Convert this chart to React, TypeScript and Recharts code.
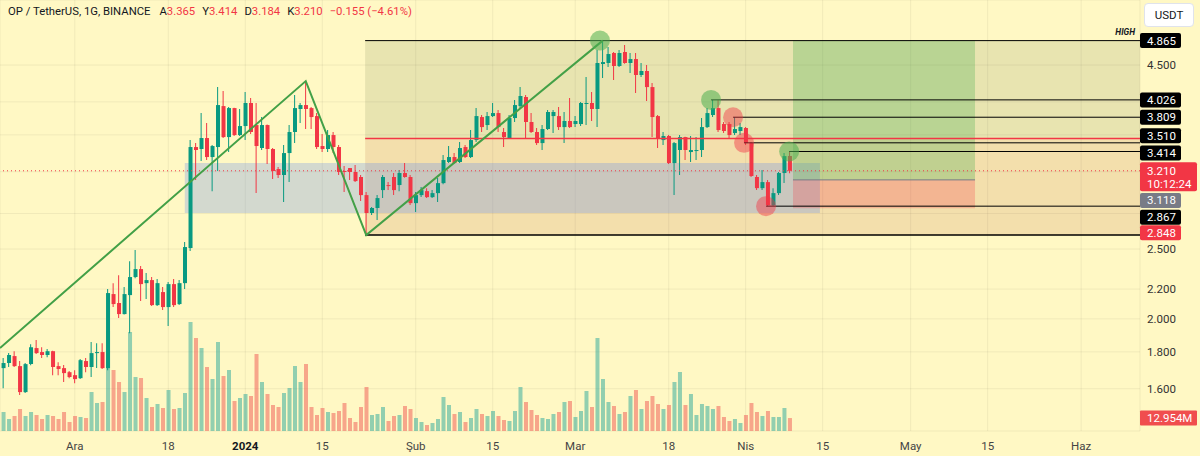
import React from "react";
import {
  ComposedChart,
  Bar,
  Line,
  XAxis,
  YAxis,
  CartesianGrid,
  ReferenceArea,
  ReferenceLine,
  ReferenceDot,
  Cell,
} from "recharts";

// daily candles, OP/USDT, 18 Nov 2023 .. 9 Apr 2024 (index 0 = 18 Nov)
const opens = [
  1.709, 1.737, 1.776, 1.72, 1.583, 1.731, 1.822, 1.799, 1.782, 1.804,
  1.72, 1.709, 1.687, 1.671, 1.655, 1.748, 1.715, 1.793, 1.799, 1.709,
  2.165, 2.104, 2.031, 2.158, 2.286, 2.345, 2.242, 2.264, 2.09, 2.179,
  2.077, 2.235, 2.097, 2.242, 2.508, 3.463, 3.441, 3.564, 3.354, 3.463,
  3.947, 3.575, 3.922, 3.598, 3.703, 3.986, 3.715, 3.452, 3.715, 3.441,
  3.228, 3.167, 3.397, 3.633, 3.91, 3.96, 3.922, 3.823, 3.474, 3.441,
  3.598, 3.463, 3.208, 3.238, 3.198, 3.147, 2.97, 2.805, 2.85, 3.018,
  3.067, 3.147, 3.067, 3.187, 3.147, 2.895, 2.97, 3.008, 2.951, 2.989,
  3.086, 3.301, 3.354, 3.301, 3.463, 3.354, 3.541, 3.811, 3.715, 3.823,
  3.86, 3.633, 3.564, 3.799, 3.947, 4.063, 3.751, 3.633, 3.507, 3.668,
  3.823, 3.823, 3.691, 3.763, 3.727, 3.727, 3.973, 3.986, 3.91, 4.515,
  4.529, 4.676, 4.486, 4.691, 4.529, 4.587, 4.359, 4.415, 4.194, 3.823,
  3.541, 3.587, 3.29, 3.43, 3.575, 3.408, 3.419, 3.43, 3.691, 3.836,
  3.922, 3.727, 3.727, 3.621, 3.645, 3.68, 3.507, 3.147, 3.037, 3.096,
  2.875, 2.989, 3.187, 3.365,
];
const highs = [
  1.765, 1.793, 1.804, 1.748, 1.737, 1.845, 1.869, 1.827, 1.816, 1.806,
  1.742, 1.726, 1.693, 1.698, 1.759, 1.765, 1.857, 1.851, 1.851, 2.2,
  2.242, 2.3, 2.214, 2.405, 2.492, 2.368, 2.315, 2.286, 2.271, 2.214,
  2.25, 2.271, 2.264, 2.557, 3.541, 3.507, 3.86, 3.739, 3.485, 4.194,
  4.142, 3.935, 3.925, 3.91, 4.129, 4.05, 3.986, 3.811, 3.72, 3.452,
  3.249, 3.485, 3.715, 4.089, 3.986, 4.275, 3.935, 3.86, 3.61, 3.656,
  3.633, 3.485, 3.259, 3.238, 3.269, 3.167, 2.999, 2.859, 2.97, 3.167,
  3.096, 3.187, 3.218, 3.29, 3.167, 2.999, 3.047, 3.037, 3.018, 3.136,
  3.375, 3.474, 3.397, 3.519, 3.485, 3.656, 3.922, 3.836, 3.873, 3.986,
  3.897, 3.68, 3.836, 4.024, 4.194, 4.089, 3.86, 3.68, 3.715, 3.897,
  3.897, 3.935, 3.873, 4.05, 3.823, 3.999, 4.331, 4.129, 4.721, 4.865,
  4.767, 4.691, 4.721, 4.797, 4.676, 4.676, 4.529, 4.5, 4.248, 3.836,
  3.633, 3.598, 3.519, 3.598, 3.58, 3.587, 3.575, 3.799, 3.922, 4.026,
  4.02, 3.751, 3.751, 3.809, 3.739, 3.691, 3.519, 3.167, 3.218, 3.116,
  3.037, 3.198, 3.397, 3.414,
];
const lows = [
  1.603, 1.715, 1.715, 1.568, 1.578, 1.725, 1.788, 1.765, 1.77, 1.671,
  1.671, 1.635, 1.655, 1.629, 1.65, 1.687, 1.661, 1.709, 1.704, 1.698,
  2.077, 2.005, 2.028, 1.911, 2.278, 2.117, 2.131, 2.084, 2.084, 2.057,
  1.955, 2.077, 2.09, 2.2, 2.484, 3.116, 3.311, 3.322, 3.008, 3.208,
  3.564, 3.408, 3.587, 3.587, 3.541, 3.61, 2.989, 3.43, 3.28, 3.126,
  3.136, 2.905, 3.096, 3.507, 3.739, 3.668, 3.668, 3.441, 3.408, 3.408,
  3.397, 3.167, 2.999, 3.116, 3.096, 2.914, 2.614, 2.787, 2.742, 2.942,
  3.018, 2.97, 3.008, 3.14, 2.877, 2.814, 2.951, 2.942, 2.942, 2.905,
  3.076, 3.29, 3.285, 3.29, 3.343, 3.343, 3.519, 3.633, 3.656, 3.811,
  3.633, 3.463, 3.552, 3.751, 3.922, 3.564, 3.621, 3.485, 3.43, 3.656,
  3.621, 3.656, 3.507, 3.68, 3.691, 3.703, 3.715, 3.763, 3.691, 4.316,
  4.472, 4.289, 4.472, 4.52, 4.387, 4.115, 4.331, 4.011, 3.575, 3.452,
  3.485, 3.28, 2.97, 3.167, 3.322, 3.301, 3.322, 3.354, 3.68, 3.811,
  3.633, 3.621, 3.564, 3.598, 3.598, 3.485, 3.147, 3.018, 3.018, 2.867,
  2.87, 2.97, 3.086, 3.184,
];
const closes = [
  1.737, 1.782, 1.72, 1.583, 1.731, 1.827, 1.793, 1.782, 1.804, 1.715,
  1.704, 1.682, 1.661, 1.65, 1.753, 1.715, 1.793, 1.799, 1.709, 2.172,
  2.097, 2.031, 2.165, 2.286, 2.345, 2.235, 2.264, 2.09, 2.242, 2.077,
  2.235, 2.09, 2.242, 2.516, 3.463, 3.43, 3.564, 3.354, 3.474, 3.96,
  3.575, 3.922, 3.598, 3.703, 3.986, 3.633, 3.474, 3.715, 3.441, 3.208,
  3.167, 3.397, 3.633, 3.922, 3.96, 3.91, 3.811, 3.463, 3.441, 3.598,
  3.463, 3.198, 3.198, 3.198, 3.106, 2.97, 2.805, 2.85, 2.942, 3.147,
  3.057, 3.018, 3.187, 3.147, 2.895, 2.97, 3.018, 2.951, 2.989, 3.086,
  3.322, 3.354, 3.29, 3.452, 3.354, 3.541, 3.823, 3.691, 3.823, 3.86,
  3.691, 3.575, 3.799, 3.96, 4.076, 3.751, 3.633, 3.507, 3.668, 3.873,
  3.873, 3.691, 3.763, 3.691, 3.763, 3.986, 3.986, 3.91, 4.529, 4.543,
  4.661, 4.486, 4.676, 4.529, 4.587, 4.359, 4.415, 4.194, 3.811, 3.564,
  3.587, 3.29, 3.507, 3.575, 3.43, 3.43, 3.43, 3.691, 3.86, 3.922,
  3.656, 3.645, 3.598, 3.668, 3.691, 3.507, 3.157, 3.037, 3.096, 2.875,
  2.989, 3.187, 3.364, 3.21,
];
// volume in millions
const volumes = [
  19, 12, 15, 22, 15, 19, 16, 12, 16, 15,
  12, 19, 9, 15, 14, 13, 39, 28, 29, 100,
  61, 49, 39, 99, 54, 53, 33, 24, 27, 23,
  41, 22, 23, 38, 109, 93, 83, 64, 52, 89,
  55, 61, 30, 33, 37, 35, 77, 49, 37, 26,
  24, 38, 43, 65, 49, 67, 24, 16, 23, 19,
  18, 20, 28, 13, 9, 24, 44, 16, 17, 24,
  10, 15, 16, 25, 22, 13, 9, 6, 8, 12,
  34, 26, 17, 19, 9, 13, 22, 17, 15, 20,
  15, 11, 10, 20, 44, 29, 21, 16, 13, 12,
  17, 19, 29, 30, 14, 20, 40, 24, 93, 52,
  29, 25, 17, 19, 35, 41, 22, 30, 35, 27,
  22, 26, 49, 59, 26, 37, 16, 27, 25, 22,
  25, 14, 10, 12, 8, 16, 28, 19, 15, 20,
  14, 14, 23, 12.954,
];

// x-axis: candle index of each date tick
const dateTicks = [13, 30, 44, 58, 75, 89, 104, 121, 135, 149, 165, 179, 196];
const dateLabels = ["Ara", "18", "2024", "15", "Şub", "15", "Mar", "18", "Nis", "15", "May", "15", "Haz"];
const priceTicks = [1.6, 1.8, 2.0, 2.2, 2.5, 2.8, 3.2, 3.6, 4.0, 4.5];
const coveredTicks = [2.8, 3.2, 3.6, 4.0];

// zigzag drawing (candle index, price)
const zigIdx = [-0.6, 55, 66, 109];
const zigPrice = [1.822, 4.275, 2.614, 4.865];

const W = 1200;
const H = 456;
const X_MIN = -0.6;
const X_MAX = 206.7;
const BG = "#fff8c4";
const UP = "#089981";
const DOWN = "#f23645";
const FONT = "Roboto, 'Liberation Sans', sans-serif";

const candles = opens.map((o, i) => ({
  i,
  wick: [lows[i], highs[i]],
  body: [Math.min(o, closes[i]), Math.max(o, closes[i])],
  vol: volumes[i],
  up: closes[i] >= o,
}));
const zigData = zigIdx.map((i, k) => ({ i, p: zigPrice[k] }));

function priceTag(text: string, bg: string, dy = 0, w = 41) {
  return (props: any) => {
    const { cx, cy } = props;
    const y = cy + dy;
    return (
      <g>
        <rect x={cx} y={y - 7.5} width={w} height={15} fill={bg} rx={2} />
        <text x={cx + 7} y={y + 4} fill="#fff" fontSize={11.5} fontFamily={FONT}>
          {text}
        </text>
      </g>
    );
  };
}

const highTag = (props: any) => {
  const { cx, cy } = props;
  return (
    <g>
      <text x={cx - 5} y={cy - 6} textAnchor="end" fontSize={8.5} fontStyle="italic" fontWeight="bold" fill="#131722" fontFamily={FONT}>
        HIGH
      </text>
      {priceTag("4.865", "#000", 0)(props)}
    </g>
  );
};

const lastTag = (props: any) => {
  const { cx, cy } = props;
  return (
    <g>
      <rect x={cx} y={cy - 8.5} width={57} height={29} fill={DOWN} rx={2} />
      <text x={cx + 7} y={cy + 4} fill="#fff" fontSize={11.5} fontFamily={FONT}>3.210</text>
      <text x={cx + 7} y={cy + 17} fill="#fff" fontSize={11.5} fontFamily={FONT}>10:12:24</text>
    </g>
  );
};

const volTag = (props: any) => {
  const { cx, cy } = props;
  return (
    <g>
      <rect x={cx} y={cy - 7.5} width={57} height={15} fill="#f04e4e" rx={1} />
      <text x={cx + 7} y={cy + 4} fill="#fff" fontSize={11.5} fontFamily={FONT}>12.954M</text>
    </g>
  );
};

const renderPriceTick = (props: any) => {
  const { x, y, payload } = props;
  if (coveredTicks.includes(payload.value)) return <g />;
  return (
    <text x={x} y={y + 4} fill="#333" fontSize={11.5} fontFamily={FONT} textAnchor="start">
      {Number(payload.value).toFixed(3)}
    </text>
  );
};

const renderDateTick = (props: any) => {
  const { x, y, payload } = props;
  const k = dateTicks.indexOf(payload.value);
  const label = dateLabels[k];
  const bold = label === "2024";
  return (
    <text x={x} y={y + 17} fill={bold ? "#131722" : "#444"} fontWeight={bold ? "bold" : "normal"} fontSize={11.5} fontFamily={FONT} textAnchor="middle">
      {label}
    </text>
  );
};

const circle = (fill: string) => (props: any) => <circle cx={props.cx} cy={props.cy} r={10} fill={fill} />;

export default function App() {
  return (
    <div style={{ position: "absolute", left: 0, top: 0, width: W, height: H, background: BG, overflow: "hidden", fontFamily: FONT }}>
      <ComposedChart width={W} height={H} data={candles} margin={{ top: 0, right: 0, bottom: 0, left: 0 }}>
        <CartesianGrid xAxisId={0} yAxisId={0} stroke="#000" strokeOpacity={0.06} />
        <XAxis
          xAxisId={0}
          dataKey="i"
          type="number"
          domain={[X_MIN, X_MAX]}
          allowDataOverflow
          ticks={dateTicks}
          interval={0}
          height={25}
          axisLine={false}
          tickLine={false}
          tickSize={0}
          tick={renderDateTick}
        />
        <XAxis xAxisId="body" dataKey="i" type="number" domain={[X_MIN, X_MAX]} allowDataOverflow hide />
        <XAxis xAxisId="vol" dataKey="i" type="number" domain={[X_MIN, X_MAX]} allowDataOverflow hide />
        <YAxis
          yAxisId={0}
          orientation="right"
          scale="log"
          domain={[1.398, 5.539]}
          allowDataOverflow
          ticks={priceTicks}
          interval={0}
          width={60}
          axisLine={false}
          tickLine={false}
          tickSize={0}
          tickMargin={7}
          tick={renderPriceTick}
        />
        <YAxis yAxisId="vol" domain={[0, 431]} allowDataOverflow hide />

        <ReferenceArea xAxisId={0} yAxisId={0} x1={65.8} x2={X_MAX} y1={3.56} y2={4.865} fill="#4a5a30" fillOpacity={0.13} ifOverflow="visible" />
        <ReferenceArea xAxisId={0} yAxisId={0} x1={65.8} x2={X_MAX} y1={2.614} y2={3.56} fill="#b0502a" fillOpacity={0.15} ifOverflow="visible" />

        <Bar xAxisId="vol" yAxisId="vol" dataKey="vol" barSize={4} isAnimationActive={false}>
          {candles.map((d) => (
            <Cell key={d.i} fill={d.up ? "rgba(38,166,154,0.5)" : "rgba(239,83,80,0.5)"} />
          ))}
        </Bar>
        <Bar xAxisId={0} yAxisId={0} dataKey="wick" barSize={1} isAnimationActive={false}>
          {candles.map((d) => (
            <Cell key={d.i} fill={d.up ? UP : DOWN} />
          ))}
        </Bar>
        <Bar xAxisId="body" yAxisId={0} dataKey="body" barSize={4} minPointSize={1} isAnimationActive={false}>
          {candles.map((d) => (
            <Cell key={d.i} fill={d.up ? UP : DOWN} />
          ))}
        </Bar>

        <ReferenceArea xAxisId={0} yAxisId={0} x1={33} x2={148.5} y1={2.805} y2={3.29} fill="#6e91e8" fillOpacity={0.3} ifOverflow="visible" />
        <ReferenceArea xAxisId={0} yAxisId={0} x1={143.6} x2={176.7} y1={3.118} y2={4.865} fill="#4caf50" fillOpacity={0.3} ifOverflow="visible" />
        <ReferenceArea xAxisId={0} yAxisId={0} x1={143.6} x2={176.7} y1={2.848} y2={3.118} fill="#f23645" fillOpacity={0.25} ifOverflow="visible" />

        <ReferenceLine xAxisId={0} yAxisId={0} y={3.21} stroke={DOWN} strokeDasharray="1 3" />
        <ReferenceLine xAxisId={0} yAxisId={0} segment={[{ x: 65.8, y: 4.865 }, { x: X_MAX, y: 4.865 }]} stroke="#000" />
        <ReferenceLine xAxisId={0} yAxisId={0} segment={[{ x: 65.8, y: 3.56 }, { x: X_MAX, y: 3.56 }]} stroke={DOWN} strokeWidth={1.5} />
        <ReferenceLine xAxisId={0} yAxisId={0} segment={[{ x: 65.8, y: 2.614 }, { x: X_MAX, y: 2.614 }]} stroke="#000" strokeWidth={1.5} />
        <ReferenceLine xAxisId={0} yAxisId={0} segment={[{ x: 143.6, y: 3.118 }, { x: 176.7, y: 3.118 }]} stroke="#787b86" />
        <ReferenceLine xAxisId={0} yAxisId={0} segment={[{ x: 128.7, y: 4.026 }, { x: X_MAX, y: 4.026 }]} stroke="#000" />
        <ReferenceLine xAxisId={0} yAxisId={0} segment={[{ x: 132.7, y: 3.809 }, { x: X_MAX, y: 3.809 }]} stroke="#000" />
        <ReferenceLine xAxisId={0} yAxisId={0} segment={[{ x: 134.7, y: 3.51 }, { x: X_MAX, y: 3.51 }]} stroke="#000" />
        <ReferenceLine xAxisId={0} yAxisId={0} segment={[{ x: 142.9, y: 3.414 }, { x: X_MAX, y: 3.414 }]} stroke="#000" />
        <ReferenceLine xAxisId={0} yAxisId={0} segment={[{ x: 138.7, y: 2.867 }, { x: X_MAX, y: 2.867 }]} stroke="#000" />

        <Line xAxisId={0} yAxisId={0} data={zigData} dataKey="p" stroke="#43a047" strokeWidth={2} dot={false} activeDot={false} isAnimationActive={false} />

        <ReferenceDot xAxisId={0} yAxisId={0} x={108.5} y={4.865} shape={circle("rgba(76,175,80,0.55)")} ifOverflow="visible" />
        <ReferenceDot xAxisId={0} yAxisId={0} x={128.7} y={4.026} shape={circle("rgba(76,175,80,0.55)")} ifOverflow="visible" />
        <ReferenceDot xAxisId={0} yAxisId={0} x={142.9} y={3.414} shape={circle("rgba(76,175,80,0.55)")} ifOverflow="visible" />
        <ReferenceDot xAxisId={0} yAxisId={0} x={132.7} y={3.809} shape={circle("rgba(242,54,69,0.45)")} ifOverflow="visible" />
        <ReferenceDot xAxisId={0} yAxisId={0} x={134.7} y={3.51} shape={circle("rgba(242,54,69,0.45)")} ifOverflow="visible" />
        <ReferenceDot xAxisId={0} yAxisId={0} x={138.7} y={2.867} shape={circle("rgba(242,54,69,0.45)")} ifOverflow="visible" />

        <ReferenceDot xAxisId={0} yAxisId={0} x={X_MAX} y={4.865} shape={highTag} ifOverflow="visible" />
        <ReferenceDot xAxisId={0} yAxisId={0} x={X_MAX} y={4.026} shape={priceTag("4.026", "#000")} ifOverflow="visible" />
        <ReferenceDot xAxisId={0} yAxisId={0} x={X_MAX} y={3.809} shape={priceTag("3.809", "#000")} ifOverflow="visible" />
        <ReferenceDot xAxisId={0} yAxisId={0} x={X_MAX} y={3.51} shape={priceTag("3.510", "#000", -7)} ifOverflow="visible" />
        <ReferenceDot xAxisId={0} yAxisId={0} x={X_MAX} y={3.414} shape={priceTag("3.414", "#000", 1.5)} ifOverflow="visible" />
        <ReferenceDot xAxisId={0} yAxisId={0} x={X_MAX} y={3.21} shape={lastTag} ifOverflow="visible" />
        <ReferenceDot xAxisId={0} yAxisId={0} x={X_MAX} y={3.118} shape={priceTag("3.118", "#787b86", 20.5)} ifOverflow="visible" />
        <ReferenceDot xAxisId={0} yAxisId={0} x={X_MAX} y={2.867} shape={priceTag("2.867", "#000", 11)} ifOverflow="visible" />
        <ReferenceDot xAxisId={0} yAxisId={0} x={X_MAX} y={2.848} shape={priceTag("2.848", DOWN, 24.5)} ifOverflow="visible" />
        <ReferenceDot xAxisId={0} yAxisId="vol" x={X_MAX} y={12.954} shape={volTag} ifOverflow="visible" />
      </ComposedChart>

      <div style={{ position: "absolute", left: 8, top: 4, fontSize: 11.3, lineHeight: "16px", color: "#131722", whiteSpace: "nowrap" }}>
        OP / TetherUS, 1G, BINANCE
        <span style={{ marginLeft: 9 }}>A</span><span style={{ color: DOWN }}>3.365</span>
        <span style={{ marginLeft: 7 }}>Y</span><span style={{ color: DOWN }}>3.414</span>
        <span style={{ marginLeft: 7 }}>D</span><span style={{ color: DOWN }}>3.184</span>
        <span style={{ marginLeft: 7 }}>K</span><span style={{ color: DOWN }}>3.210</span>
        <span style={{ marginLeft: 7, color: DOWN }}>−0.155 (−4.61%)</span>
      </div>
      <div style={{ position: "absolute", left: 1144, top: 3, width: 48, height: 22, background: "#fff", border: "1px solid #e0e3eb", borderRadius: 4, fontSize: 11.5, lineHeight: "22px", textAlign: "center", color: "#131722" }}>
        USDT
      </div>
    </div>
  );
}
